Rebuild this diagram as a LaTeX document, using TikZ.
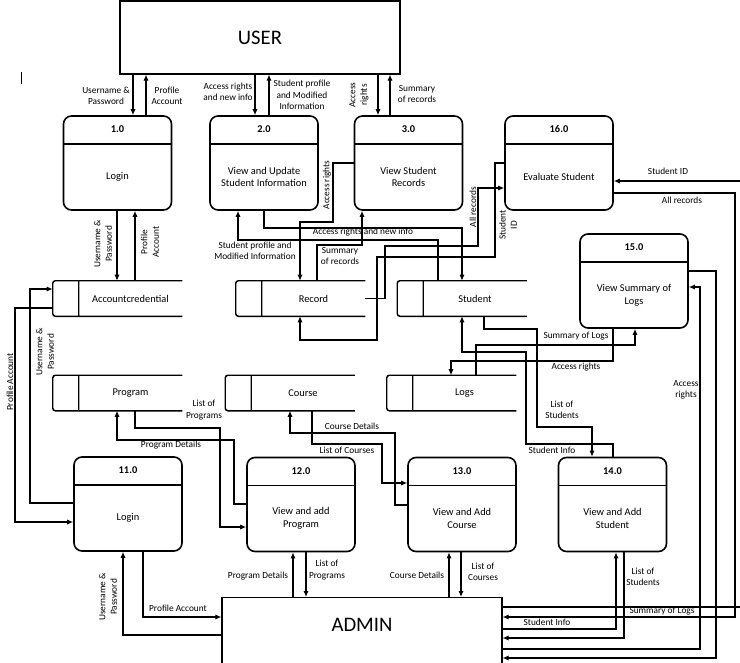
\documentclass[tikz,border=0pt]{standalone}
\usepackage{fontspec}
\setmainfont{Carlito}
\usetikzlibrary{arrows.meta}

\begin{document}
\begin{tikzpicture}[
    x=0.75pt, y=-0.75pt,
    ext/.style      ={draw, line width=0.8pt, minimum width=210pt, inner sep=0pt,
                      font=\fontsize{15.5}{18}\selectfont},
    proc/.style     ={draw, line width=1.2pt, rounded corners=6pt, inner sep=0pt,
                      minimum width=81pt, minimum height=70.5pt,
                      path picture={\draw[line width=1.2pt]
                        ([yshift=-21pt]path picture bounding box.north west) --
                        ([yshift=-21pt]path picture bounding box.north east);}},
    num/.style      ={font=\fontsize{7.8}{9}\selectfont\bfseries},
    ptext/.style    ={align=center, font=\fontsize{7.8}{9.6}\selectfont},
    store/.style    ={minimum width=77.25pt, minimum height=26.25pt, inner sep=0pt,
                      font=\fontsize{7.8}{9.6}\selectfont},
    storeline/.style={line width=1.1pt, rounded corners=2pt},
    lbl/.style      ={align=center, inner sep=1pt, font=\fontsize{7}{8.6}\selectfont},
    flow/.style     ={line width=0.8pt, -{Latex[length=4.5pt,width=3.8pt]}}
]
\useasboundingbox (0,0) rectangle (740,662);
\clip (0,0) rectangle (740,662);

% external entities
\node[ext, minimum height=54.75pt] (user) at (260,37.5) {USER};
\node[ext, anchor=north, text height=25.3pt, text depth=52pt] (admin) at (362,597) {ADMIN};
\draw[line width=0.6pt] (21,72) -- (21,84);

% processes
\node[proc] (p1)  at (117.5,163) {};
\node[proc] (p2)  at (264,163)   {};
\node[proc] (p3)  at (408.5,163) {};
\node[proc] (p16) at (559,163)   {};
\node[proc] (p15) at (634,281)   {};
\node[proc] (p11) at (128,504)   {};
\node[proc] (p12) at (301,504.5) {};
\node[proc] (p13) at (462,504.5) {};
\node[proc] (p14) at (612.5,504.5) {};

\node[num]   (p1n)  at ([yshift=-10.5pt]p1.north)  {1.0};
\node[ptext] (p1t)  at ([yshift=-10.5pt]p1.center) {Login};
\node[num]   (p2n)  at ([yshift=-10.5pt]p2.north)  {2.0};
\node[ptext] (p2t)  at ([yshift=-10.5pt]p2.center) {View and Update\\Student Information};
\node[num]   (p3n)  at ([yshift=-10.5pt]p3.north)  {3.0};
\node[ptext] (p3t)  at ([yshift=-10.5pt]p3.center) {View Student\\Records};
\node[num]   (p16n) at ([yshift=-10.5pt]p16.north) {16.0};
\node[ptext] (p16t) at ([yshift=-10.5pt]p16.center) {Evaluate Student};
\node[num]   (p15n) at ([yshift=-10.5pt]p15.north) {15.0};
\node[ptext] (p15t) at ([yshift=-10.5pt]p15.center) {View Summary of\\Logs};
\node[num]   (p11n) at ([yshift=-10.5pt]p11.north) {11.0};
\node[ptext] (p11t) at ([yshift=-10.5pt]p11.center) {Login};
\node[num]   (p12n) at ([yshift=-10.5pt]p12.north) {12.0};
\node[ptext] (p12t) at ([yshift=-10.5pt]p12.center) {View and add\\Program};
\node[num]   (p13n) at ([yshift=-10.5pt]p13.north) {13.0};
\node[ptext] (p13t) at ([yshift=-10.5pt]p13.center) {View and Add\\Course};
\node[num]   (p14n) at ([yshift=-10.5pt]p14.north) {14.0};
\node[ptext] (p14t) at ([yshift=-10.5pt]p14.center) {View and Add\\Student};

% data stores
\node[store] (acc)  at (130.5,298.5) {Accountcredential};
\node[store] (rec)  at (313.5,298.5) {Record};
\node[store] (stu)  at (475,298.5)   {Student};
\node[store] (prog) at (130.5,393)   {Program};
\node[store] (crs)  at (303,393)     {Course};
\node[store] (logs) at (464.5,393)   {Logs};
\foreach \s in {acc,rec,stu,prog,crs,logs}
  \draw[storeline] (\s.north east) -- ([xshift=-19.5pt]\s.north west)
    -- ([xshift=-19.5pt]\s.south west) -- (\s.south east)
    (\s.north west) -- (\s.south west);

% USER flows
\draw[flow] (133,0 |- user.south) -- (133,0 |- p1.north);
\draw[flow] (146,0 |- p1.north) -- (146,0 |- user.south);
\draw[flow] (255,0 |- user.south) -- (255,0 |- p2.north);
\draw[flow] (269,0 |- p2.north) -- (269,0 |- user.south);
\draw[flow] (378,0 |- user.south) -- (378,0 |- p3.north);
\draw[flow] (390,0 |- p3.north) -- (390,0 |- user.south);
\node[lbl] (l1) at (106,96) {Username \&\\Password};
\node[lbl] (l2) at (167,96) {Profile\\Account};
\node[lbl] (l3) at (228,92) {Access rights\\and new info};
\node[lbl] (l4) at (302,95) {Student profile\\and Modified\\Information};
\node[lbl, rotate=90] (l5) at (359,95) {Access\\rights};
\node[lbl] (l6) at (417,94) {Summary\\of records};

% login 1.0 and account store
\draw[flow] (117,0 |- p1.south) -- (117,0 |- acc.north);
\draw[flow] (135,0 |- acc.north) -- (135,0 |- p1.south);
\node[lbl, rotate=90] (l7) at (103,244) {Username \&\\Password};
\node[lbl, rotate=90] (l8) at (150,242) {Profile\\Account};

% login 11.0 and account store
\draw[flow] (p11.west |- 0,503) -- (30,503) -- (30,289) -- ([xshift=-19.5pt,yshift=7.125pt]acc.west);
\draw[flow] ([xshift=-19.5pt,yshift=-7.125pt]acc.west) -- (15,308) -- (15,522) -- (p11.west |- 0,522);
\node[lbl, rotate=90] (l9)  at (45,352) {Username \&\\Password};
\node[lbl, rotate=90] (l10) at (10,382) {Profile Account};

% student information and records
\draw[flow] (p3.west |- 0,163) -- (333,163) -- (333,222) -- (300,222) -- (300,0 |- rec.north);
\draw[flow] (438,0 |- stu.north) -- (438,240) -- (238,240) -- (238,0 |- p2.south);
\draw[flow] (264,0 |- p2.south) -- (264,228) -- (462,228) -- (462,0 |- stu.north);
\draw[flow] (317,0 |- rec.north) -- (317,245) -- (362,245) -- (362,0 |- p3.south);
\draw[flow] (rec.east) -- (385,0 |- rec.east) -- (385,246) -- (478,246) -- (478,188) -- (p16.west |- 0,188);
\draw[flow] (p16.west |- 0,163) -- (495,163) -- (495,257) -- (377,257) -- (377,340) -- (300,340) -- (300,0 |- rec.south);
\node[lbl, rotate=90] (l11) at (327,185) {Access rights};
\node[lbl] (l12) at (255,251) {Student profile and\\Modified Information};
\node[lbl] (l13) at (363,232) {Access rights and new info};
\node[lbl] (l14) at (340,256) {Summary\\of records};
\node[lbl, rotate=90] (l15) at (473,207) {All records};
\node[lbl, rotate=90] (l16) at (508,225) {Student\\ID};

% evaluate student and admin
\draw[flow] (admin.east |- 0,607) -- (742,607) -- (742,181) -- (p16.east |- 0,181);
\draw[flow] (p16.east |- 0,193) -- (735,193) -- (735,617) -- (admin.east |- 0,617);
\node[lbl] (l17) at (668,171) {Student ID};
\node[lbl] (l18) at (682,200) {All records};

% summary of logs
\draw[flow] (p15.east |- 0,271) -- (716,271) -- (716,658) -- (admin.east |- 0,658);
\draw[flow] (admin.east |- 0,649) -- (700,649) -- (700,287) -- (p15.east |- 0,287);
\draw[flow] (476,0 |- logs.north) -- (476,345) -- (635,345) -- (635,0 |- p15.south);
\draw[flow] (613,0 |- p15.south) -- (613,361) -- (451,361) -- (451,0 |- logs.north);
\node[lbl] (l19) at (686,390) {Access\\rights};
\node[lbl] (l20) at (662,611) {Summary of Logs};
\node[lbl] (l21) at (576,336) {Summary of Logs};
\node[lbl] (l22) at (576,367) {Access rights};

% student 14.0
\draw[flow] (484,0 |- stu.south) -- (484,329) -- (537,329) -- (537,427) -- (592,427) -- (592,0 |- p14.north);
\draw[flow] (613,0 |- p14.north) -- (613,444) -- (526,444) -- (526,352) -- (462,352) -- (462,0 |- stu.south);
\draw[flow] (admin.east |- 0,629) -- (616,629) -- (616,0 |- p14.south);
\draw[flow] (624,0 |- p14.south) -- (624,638) -- (admin.east |- 0,638);
\node[lbl] (l23) at (562,410) {List of\\Students};
\node[lbl] (l24) at (552,450) {Student Info};
\node[lbl] (l25) at (547,622) {Student Info};
\node[lbl] (l26) at (643,577) {List of\\Students};

% program and course
\draw[flow] (135,0 |- prog.south) -- (135,428) -- (220,428) -- (220,527) -- (p12.west |- 0,527);
\draw[flow] (p12.west |- 0,504) -- (234,504) -- (234,440) -- (117,440) -- (117,0 |- prog.south);
\draw[flow] (p13.west |- 0,505) -- (395,505) -- (395,433) -- (290,433) -- (290,0 |- crs.south);
\draw[flow] (312,0 |- crs.south) -- (312,444) -- (382,444) -- (382,483) -- (p13.west |- 0,483);
\node[lbl] (l27) at (204,410) {List of\\Programs};
\node[lbl] (l28) at (171,445) {Program Details};
\node[lbl] (l29) at (352,426) {Course Details};
\node[lbl] (l30) at (347,450) {List of Courses};

% admin flows
\draw[flow] (293,0 |- admin.north) -- (293,0 |- p12.south);
\draw[flow] (306,0 |- p12.south) -- (306,0 |- admin.north);
\draw[flow] (449,0 |- admin.north) -- (449,0 |- p13.south);
\draw[flow] (461,0 |- p13.south) -- (461,0 |- admin.north);
\draw[flow] (admin.west |- 0,635) -- (123,635) -- (123,0 |- p11.south);
\draw[flow] (143,0 |- p11.south) -- (143,617) -- (admin.west |- 0,617);
\node[lbl] (l31) at (258,576) {Program Details};
\node[lbl] (l32) at (327,570) {List of\\Programs};
\node[lbl] (l33) at (417,575) {Course Details};
\node[lbl] (l34) at (483,572) {List of\\Courses};
\node[lbl, rotate=90] (l35) at (108,597) {Username \&\\Password};
\node[lbl] (l36) at (178,608) {Profile Account};
\end{tikzpicture}
\end{document}
